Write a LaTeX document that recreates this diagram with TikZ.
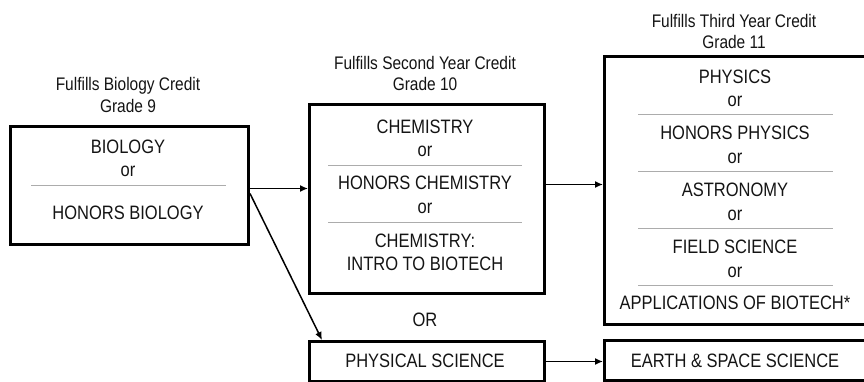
\documentclass[tikz,border=0pt]{standalone}
\usepackage{fontspec}
\setmainfont{Liberation Sans}[FakeStretch=0.85]
\usetikzlibrary{arrows.meta,positioning}
\tikzset{
    box/.style={draw,line width=3pt,inner sep=0pt,anchor=north west},
    item/.style={anchor=base,inner sep=0pt,text=black!92,font=\fontsize{19.4}{23}\selectfont},
    heading/.style={anchor=base,inner sep=0pt,text=black!92,font=\fontsize{18.2}{22}\selectfont},
    divider/.style={gray!65,line width=0.8pt},
    arr/.style={-{Latex[length=8pt,width=7pt]},line width=1.5pt},
}

\begin{document}
\begin{tikzpicture}[x=1pt,y=-1pt]
    \useasboundingbox (0,0) rectangle (864,381);

    % boxes
    \node[box,minimum width=238pt,minimum height=118pt] (bio) at (9,125) {};
    \node[box,minimum width=235pt,minimum height=189pt] (chem) at (308,103) {};
    \node[box,minimum width=235pt,minimum height=40pt] (phys) at (308,340) {};
    \node[box,minimum width=264pt,minimum height=268pt] (third) at (603,55) {};
    \node[box,minimum width=264pt,minimum height=40pt] (earth) at (603,339) {};

    % headings
    \node[heading] (biohead) at (128,90) {Fulfills Biology Credit};
    \node[heading] (biograde) at (128,112) {Grade 9};
    \node[heading] (chemhead) at (425,69) {Fulfills Second Year Credit};
    \node[heading] (chemgrade) at (425,90) {Grade 10};
    \node[heading] (thirdhead) at (734,27) {Fulfills Third Year Credit};
    \node[heading] (thirdgrade) at (734,48) {Grade 11};

    % course lists
    \foreach \t/\y [count=\i] in {BIOLOGY/153,or/176,HONORS BIOLOGY/219}
        \node[item] (bio\i) at (128,\y) {\t};
    \foreach \t/\y [count=\i] in {CHEMISTRY/133,or/156,HONORS CHEMISTRY/189,or/213,CHEMISTRY:/247,INTRO TO BIOTECH/270}
        \node[item] (chem\i) at (425,\y) {\t};
    \foreach \t/\y [count=\i] in {PHYSICS/83,or/106,HONORS PHYSICS/139,or/163,ASTRONOMY/196,or/220,FIELD SCIENCE/253,or/277,APPLICATIONS OF BIOTECH*/309}
        \node[item] (third\i) at (735,\y) {\t};
    \node[item] (or) at (425,326) {OR};
    \node[item] (physname) at (425,367) {PHYSICAL SCIENCE};
    \node[item] (earthname) at (735,367) {EARTH \& SPACE SCIENCE};

    % dividers
    \draw[divider] (31,185) -- (226,185);
    \foreach \y in {165,222}
        \draw[divider] (328,\y) -- (522,\y);
    \foreach \y in {114,171,228,285}
        \draw[divider] (638,\y) -- (833,\y);

    % arrows
    \draw[arr] ([yshift=-3pt]bio.east) -- ([yshift=-3pt]bio.east -| chem.west);
    \draw[arr] ([yshift=-8pt]bio.east) -- ([xshift=14pt]phys.north west);
    \draw[arr] ([yshift=6pt]third.west -| chem.east) -- ([yshift=6pt]third.west);
    \draw[arr] (phys.east) -- (phys.east -| earth.west);
\end{tikzpicture}
\end{document}
